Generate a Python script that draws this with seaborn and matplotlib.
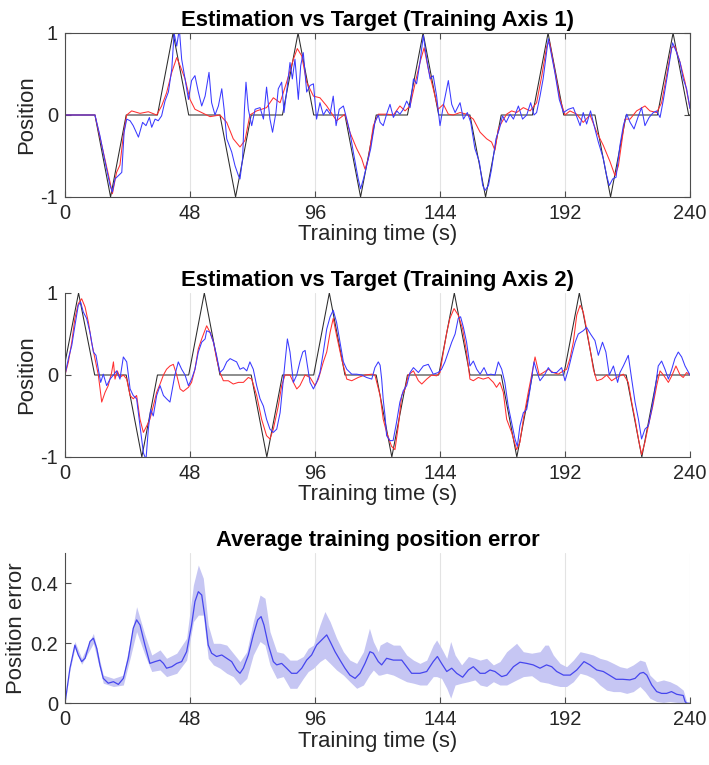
import numpy as np
import matplotlib
matplotlib.use("Agg")
import matplotlib.pyplot as plt
import seaborn as sns

# ---------------- data ----------------
# Target signals (breakpoints)
tgt1_t = [0, 11.5, 17.5, 23.5, 35.5, 41.5, 47.5, 59.5, 65.5, 71.5, 83.5, 89.5, 95.5, 107.5, 113.5, 119.5,
          131.5, 137.5, 143.5, 155.5, 161.5, 167.5, 179.5, 185.5, 191.5, 203.5, 209.5, 215.5, 227.5, 233.5, 239.5, 240]
tgt1_v = [0, 0, -1, 0, 0, 1, 0, 0, -1, 0, 0, 1, 0, 0, -1, 0,
          0, 1, 0, 0, -1, 0, 0, 1, 0, 0, -1, 0, 0, 1, 0, 0]

tgt2_t = [0, 5.2, 11.4, 23.5, 29.5, 35.5, 47.5, 53.5, 59.5, 71.5, 77.5, 83.5, 95.5, 101.5, 107.5, 119.5,
          125.5, 131.5, 143.5, 149.5, 155.5, 167.5, 173.5, 179.5, 191.5, 197.5, 203.5, 215.5, 221.5, 227.5, 240]
tgt2_v = [0.15, 1, 0, 0, -1, 0, 0, 1, 0, 0, -1, 0, 0, 1, 0, 0,
          -1, 0, 0, 1, 0, 0, -1, 0, 0, 1, 0, 0, -1, 0, 0]

# Axis 1 estimation (red)
red1_t = [0, 11.5, 14.7, 17.3, 18.2, 19.8, 21.1, 22.4, 23.7, 25.6, 28.8, 32.0, 35.2, 37.1, 39.0, 41.0, 42.9, 44.2,
          46.1, 48.0, 49.9, 53.1, 55.7, 59.5, 62.1, 64.6, 67.2, 69.1, 71.0, 73.6, 77.4, 80.0, 82.6, 85.1, 87.7, 89.2,
          90.9, 92.8, 95.4, 97.9, 100.5, 104.3, 107.5, 109.4, 112.0, 113.9, 115.2, 116.5, 118.4, 120.3, 123.5, 126.1,
          128.6, 130.6, 132.5, 134.4, 136.3, 137.9, 139.5, 141.4, 143.3, 145.3, 147.2, 149.1, 151.7, 154.2, 156.8,
          159.4, 161.9, 163.8, 165.1, 166.4, 167.7, 169.6, 171.5, 173.4, 176.0, 178.6, 181.1, 183.1, 185.0, 186.0,
          187.5, 190.1, 192.0, 193.9, 196.5, 199.0, 201.6, 204.2, 206.7, 209.3, 211.2, 212.5, 213.8, 215.0, 217.0,
          219.5, 222.7, 224.6, 227.2, 229.1, 231.0, 232.9, 234.2, 236.2, 238.1, 240.0]
red1_v = [0, 0, -0.45, -0.82, -0.96, -0.70, -0.61, -0.25, 0, 0.05, 0.02, 0.04, 0, 0.11, 0.27, 0.52, 0.70, 0.60,
          0.44, 0.19, 0.07, 0.02, -0.02, 0, -0.09, -0.29, -0.39, -0.31, 0, 0.05, 0.09, 0.21, 0.15, 0.40, 0.68, 0.81,
          0.72, 0.40, 0.23, 0.21, 0.11, -0.07, 0.01, -0.21, -0.41, -0.53, -0.66, -0.53, -0.13, 0.01, 0.01, 0,
          0.11, 0.05, 0.11, 0.38, 0.64, 0.82, 0.56, 0.32, 0.07, 0.13, 0.01, 0, 0.03, 0.01, -0.05,
          -0.21, -0.29, -0.33, -0.43, -0.17, -0.09, 0.01, 0.05, 0.03, 0.09, 0.05, 0.15, 0.48, 0.84, 0.90,
          0.64, 0.19, 0, 0.05, 0.01, -0.09, 0, -0.21, -0.37, -0.57, -0.74, -0.62, -0.33, -0.05, -0.05,
          0.05, 0.11, 0.05, 0.03, 0.15, 0.48, 0.82, 0.84, 0.64, 0.40, 0.08]

# Axis 1 estimation (blue)
blue1_t = [0, 11.5, 13.4, 15.4, 17.3, 18.2, 19.2, 20.5, 21.8, 22.7, 23.7, 25.0, 26.2, 28.2, 29.8, 31.1, 32.4, 33.3,
           34.6, 35.8, 37.1, 38.4, 39.7, 41.0, 41.9, 42.9, 43.9, 44.8, 46.1, 47.4, 48.6, 49.9, 51.2, 52.5, 53.8, 55.3,
           56.3, 57.6, 58.9, 60.2, 61.1, 62.1, 64.0, 65.3, 66.6, 67.2, 68.2, 68.9, 69.5, 70.4, 71.7, 73.0, 74.9, 76.2,
           77.4, 78.7, 79.7, 81.0, 81.9, 83.2, 84.1, 85.1, 86.4, 87.3, 88.3, 89.6, 90.5, 91.5, 92.8, 94.1, 95.4, 96.6,
           97.9, 99.2, 100.5, 101.8, 103.0, 104.1, 105.3, 106.9, 108.2, 109.4, 110.7, 112.6, 113.5, 114.6, 115.8,
           117.4, 119.0, 120.3, 121.0, 122.2, 123.5, 124.8, 126.1, 127.4, 128.6, 129.9, 131.2, 132.5, 133.8, 135.0,
           136.3, 137.6, 138.9, 140.2, 141.4, 142.7, 144.0, 145.5, 147.2, 148.5, 149.8, 151.7, 153.0, 154.5, 155.8,
           157.4, 159.1, 160.4, 161.3, 162.6, 163.8, 165.5, 166.8, 168.0, 169.4, 170.9, 172.2, 174.1, 175.7, 177.3,
           178.8, 180.1, 181.1, 182.4, 183.6, 185.6, 186.9, 188.1, 189.8, 191.4, 193.3, 195.2, 197.8, 199.0, 200.3,
           201.8, 203.5, 204.8, 206.7, 208.0, 209.0, 210.3, 211.6, 213.1, 214.4, 215.7, 217.0, 218.5, 220.2, 221.4,
           222.7, 224.3, 225.9, 227.2, 228.5, 229.8, 231.3, 233.3, 234.9, 236.2, 237.4, 238.7, 240.0]
blue1_v = [0, 0, -0.25, -0.57, -0.86, -0.94, -0.78, -0.74, -0.70, -0.21, -0.05, -0.07, -0.13, -0.27, -0.09, -0.13,
           -0.03, -0.15, -0.05, -0.07, -0.01, 0.17, 0.28, 0.56, 1.0, 0.84, 1.05, 0.68, 0.44, 0.19, 0.42, 0.48, 0.28,
           0.11, 0.23, 0.52, 0.15, 0, 0.11, 0.32, 0.07, -0.29, -0.45, -0.62, -0.74, -0.78, -0.53, 0.07, 0.40, 0.07,
           -0.13, 0.07, 0.09, -0.05, 0.34, -0.05, -0.21, 0.03, 0.32, 0.40, 0.03, 0.28, 0.64, 0.44, 0.68, 0.19, 0.60,
           0.76, 0.28, 0.36, 0.38, -0.05, 0.15, 0, 0.07, 0.01, 0.23, -0.13, 0.07, 0.11, -0.05, -0.21, -0.45, -0.78,
           -0.90, -0.78, -0.62, -0.41, -0.09, 0, -0.09, -0.13, 0.01, 0.13, -0.03, 0.05, 0.01, 0.07, 0.17, 0.09, 0.44,
           0.38, 0.64, 0.97, 0.68, 0.44, 0.48, 0.23, -0.13, 0.15, 0.42, 0.13, 0.03, 0.15, -0.05, 0.03, -0.09, -0.41,
           -0.57, -0.86, -0.92, -0.86, -0.66, -0.29, -0.17, -0.01, -0.09, 0.01, -0.05, 0.11, -0.05, 0, 0.15, 0, 0.03,
           0.23, 0.44, 0.93, 0.72, 0.52, 0.19, 0.03, 0.07, 0.09, -0.13, 0.03, -0.11, 0.05, -0.17, -0.33, -0.53, -0.74,
           -0.86, -0.78, -0.76, -0.37, -0.13, 0.01, -0.09, -0.17, -0.01, 0.09, -0.13, -0.03, 0.03, 0.05, -0.03, 0.19,
           0.48, 0.88, 0.76, 0.64, 0.44, 0.32, 0.08]

# Axis 2 estimation (red)
red2_t = [0, 1.3, 2.6, 3.8, 5.1, 6.4, 7.7, 9.0, 10.2, 11.5, 12.8, 14.1, 15.4, 16.6, 17.9, 18.6, 19.2, 20.1, 21.1,
          22.4, 23.7, 25.0, 26.2, 27.5, 28.8, 30.1, 31.4, 32.6, 33.9, 35.2, 36.5, 37.8, 39.0, 40.3, 41.6, 42.9, 44.2,
          45.4, 47.4, 48.6, 49.9, 51.2, 52.5, 54.4, 55.7, 57.0, 58.2, 59.5, 60.8, 62.7, 64.6, 66.6, 68.5, 70.4, 71.7,
          73.6, 75.5, 77.4, 78.7, 80.0, 81.9, 83.2, 84.5, 86.4, 87.7, 89.0, 90.2, 92.2, 94.1, 96.0, 97.3, 99.2, 100.5,
          101.8, 103.0, 104.3, 106.2, 108.2, 110.1, 112.6, 115.2, 117.8, 119.0, 121.0, 122.2, 123.5, 125.4, 126.7,
          128.0, 129.3, 130.6, 131.8, 133.8, 135.7, 137.0, 138.9, 140.8, 142.7, 144.0, 145.3, 146.6, 147.8, 149.4,
          151.0, 152.7, 154.2, 155.5, 156.8, 158.7, 160.6, 162.6, 164.5, 165.7, 167.0, 168.3, 169.6, 171.5, 173.4,
          174.7, 176.0, 177.9, 179.2, 180.5, 182.1, 183.7, 185.6, 187.5, 189.4, 191.4, 192.6, 193.9, 195.2, 196.5,
          197.8, 199.0, 200.3, 201.6, 202.9, 204.2, 206.1, 208.0, 209.9, 211.8, 214.4, 216.3, 217.6, 218.9, 220.2,
          221.4, 222.7, 224.0, 225.7, 227.2, 228.5, 229.8, 231.7, 233.0, 234.6, 236.2, 237.4, 238.7, 240.0]
red2_v = [0, 0.16, 0.40, 0.69, 0.87, 0.93, 0.83, 0.64, 0.40, 0.20, 0, -0.33, -0.21, -0.13, 0.03, 0.16, -0.05, 0.05,
          -0.03, 0, -0.05, -0.25, -0.29, -0.25, -0.54, -0.70, -0.62, -0.54, -0.38, -0.21, -0.11, 0, 0.07, 0.11, 0.13,
          0, -0.17, -0.20, -0.15, -0.09, 0.07, 0.32, 0.44, 0.60, 0.52, 0.40, 0.20, 0.03, -0.07, -0.07, -0.11, -0.09,
          -0.09, -0.03, -0.05, -0.25, -0.54, -0.74, -0.78, -0.66, -0.38, -0.13, 0, 0, -0.09, -0.17, -0.13, 0, -0.03,
          -0.13, -0.05, 0.16, 0.28, 0.52, 0.69, 0.48, 0.20, -0.05, -0.07, -0.03, 0, 0.01, 0, -0.25, -0.54, -0.70,
          -0.87, -0.91, -0.62, -0.25, -0.17, 0, 0.05, -0.07, -0.11, -0.05, 0, -0.01, 0.03, 0.28, 0.52, 0.69, 0.81,
          0.73, 0.56, 0.28, -0.05, -0.07, -0.03, -0.05, -0.03, -0.09, -0.15, -0.09, -0.21, -0.54, -0.70, -0.91,
          -0.82, -0.54, -0.21, 0, 0.22, 0, 0.03, 0.07, 0.03, 0.01, 0.05, 0.07, 0.20, 0.40, 0.73, 0.85, 0.77, 0.56,
          0.32, 0.07, -0.07, -0.05, 0, -0.07, -0.03, 0.01, -0.09, -0.33, -0.54, -0.78, -0.97, -0.82, -0.62, -0.38,
          -0.13, 0.05, 0, -0.09, -0.01, 0.11, 0, -0.03, 0.03, 0]

# Axis 2 estimation (blue)
blue2_t = [0, 1.3, 2.6, 3.8, 5.1, 6.0, 7.0, 8.3, 9.6, 10.9, 11.9, 12.8, 13.7, 14.7, 16.0, 17.3, 18.6, 19.8, 21.1,
           22.4, 23.7, 25.0, 26.2, 27.5, 28.8, 30.1, 31.1, 32.0, 32.9, 33.9, 35.2, 36.5, 37.8, 39.0, 40.3, 42.2, 43.5,
           44.8, 46.1, 47.4, 48.6, 49.9, 51.2, 52.5, 53.8, 54.4, 55.7, 57.0, 58.2, 59.5, 60.8, 62.1, 63.4, 64.6, 65.9,
           67.2, 68.5, 69.8, 71.0, 72.3, 73.6, 74.9, 76.2, 77.4, 78.7, 80.0, 81.3, 82.6, 83.6, 84.5, 85.4, 86.4, 87.7,
           89.0, 90.2, 91.3, 92.2, 93.1, 94.1, 95.4, 96.6, 97.9, 99.2, 100.5, 101.8, 103.0, 104.3, 105.6, 106.9,
           108.2, 110.1, 112.0, 113.9, 115.8, 117.8, 119.0, 120.3, 121.0, 121.6, 122.2, 122.9, 123.5, 124.8, 126.0,
           127.3, 128.6, 129.9, 131.2, 132.5, 133.8, 135.7, 137.6, 139.5, 141.4, 143.3, 144.6, 145.9, 147.2, 148.5,
           149.8, 151.0, 151.9, 153.0, 154.2, 155.5, 156.8, 158.1, 159.4, 160.9, 162.2, 163.5, 165.1, 166.4, 167.7,
           168.9, 170.2, 171.5, 172.8, 173.7, 174.7, 176.0, 177.3, 178.6, 180.1, 181.1, 182.4, 184.3, 185.6, 186.9,
           188.8, 190.7, 192.0, 193.3, 194.6, 195.9, 197.1, 199.0, 200.3, 201.8, 203.5, 204.8, 206.4, 207.7, 209.0,
           210.6, 212.2, 213.1, 214.4, 216.3, 217.6, 218.9, 220.2, 221.4, 222.7, 224.0, 225.3, 226.6, 227.8, 229.1,
           230.4, 231.7, 233.0, 234.2, 235.5, 236.8, 238.1, 240.0]
blue2_v = [0, 0.20, 0.36, 0.60, 0.85, 0.89, 0.77, 0.69, 0.52, 0.28, 0.24, 0.07, -0.09, 0.01, -0.13, -0.05, 0, 0.05,
           -0.05, 0.22, 0.16, -0.17, -0.25, -0.29, -0.62, -0.95, -1.03, -0.66, -0.42, -0.50, -0.25, -0.13, -0.25,
           -0.29, -0.33, 0, 0.16, 0.07, 0, -0.13, -0.05, 0.07, 0.28, 0.40, 0.44, 0.54, 0.52, 0.40, 0.24, 0.03, 0.07,
           0.16, 0.20, 0.18, 0.16, 0.07, 0.09, 0.05, 0.16, 0.07, -0.13, -0.29, -0.38, -0.54, -0.66, -0.70, -0.66,
           -0.46, -0.13, 0.16, 0.44, 0.28, -0.09, 0, 0.16, 0.28, 0.30, 0.11, -0.09, -0.17, -0.09, 0.03, 0.28, 0.56,
           0.71, 0.79, 0.64, 0.40, 0.16, 0.07, 0.01, 0.01, 0, -0.03, -0.05, 0.09, 0.16, 0.12, -0.05, -0.30, -0.50,
           -0.74, -0.80, -0.80, -0.58, -0.33, -0.19, -0.13, 0.03, 0.09, 0.03, 0.11, 0.13, 0.01, 0.03, 0.07, 0.16,
           0.28, 0.40, 0.50, 0.69, 0.71, 0.58, 0.40, 0.11, 0.17, 0.07, 0.01, 0.09, 0, 0.01, 0, 0.16, 0.07, -0.09,
           -0.38, -0.58, -0.78, -0.87, -0.62, -0.46, -0.42, -0.17, 0.16, 0.05, -0.07, 0.01, 0.09, 0.03, 0.03, 0.09,
           -0.07, 0.07, 0.24, 0.40, 0.50, 0.54, 0.58, 0.50, 0.42, 0.24, 0.40, 0.28, 0, 0.11, -0.09, 0.03, 0.11, 0.24,
           -0.05, -0.33, -0.54, -0.78, -0.66, -0.62, -0.42, -0.17, 0.11, 0.17, 0.07, -0.05, 0.07, 0.20, 0.28, 0.22,
           0.11, 0]

# Average training position error: mean
err_t = [0, 1.9, 3.8, 5.1, 6.4, 7.7, 9.6, 10.9, 12.2, 13.4, 14.7, 16.6, 18.6, 20.5, 22.4, 24.3, 26.2, 27.5, 28.8,
         30.7, 32.6, 34.6, 36.5, 37.8, 39.0, 41.0, 42.9, 44.8, 46.7, 48.6, 49.9, 51.2, 52.5, 53.8, 55.0, 56.3, 58.2,
         60.2, 62.1, 64.0, 65.9, 67.2, 68.5, 70.4, 72.3, 74.0, 75.3, 76.4, 78.1, 80.0, 81.3, 83.2, 85.1, 87.0, 89.0,
         90.9, 92.8, 94.7, 96.6, 99.2, 100.5, 101.8, 103.7, 105.6, 107.5, 109.4, 111.4, 113.3, 115.2, 117.1, 118.4,
         120.3, 121.6, 123.5, 126.1, 129.3, 131.2, 133.1, 136.3, 138.9, 141.4, 143.0, 144.6, 146.6, 148.5, 150.4,
         152.7, 154.9, 156.8, 159.4, 161.3, 163.2, 165.1, 167.7, 169.6, 172.2, 174.7, 177.3, 179.8, 182.4, 184.9,
         186.9, 188.8, 191.4, 194.0, 196.5, 199.3, 201.6, 204.2, 206.7, 209.0, 211.6, 214.2, 216.9, 218.9, 220.8,
         222.1, 223.4, 225.3, 227.2, 229.1, 231.0, 232.9, 234.9, 237.4, 238.1, 238.7, 240.0]
err_v = [0, 0.117, 0.194, 0.161, 0.139, 0.150, 0.206, 0.217, 0.183, 0.128, 0.083, 0.067, 0.072, 0.063, 0.083, 0.150,
         0.250, 0.278, 0.261, 0.194, 0.133, 0.139, 0.144, 0.133, 0.117, 0.122, 0.133, 0.139, 0.172, 0.261, 0.339,
         0.372, 0.361, 0.283, 0.194, 0.167, 0.156, 0.161, 0.150, 0.139, 0.111, 0.100, 0.117, 0.161, 0.228, 0.278,
         0.289, 0.261, 0.194, 0.139, 0.128, 0.133, 0.117, 0.100, 0.100, 0.117, 0.144, 0.161, 0.194, 0.217, 0.228,
         0.206, 0.172, 0.144, 0.117, 0.094, 0.083, 0.100, 0.133, 0.172, 0.167, 0.139, 0.128, 0.150, 0.144, 0.144,
         0.122, 0.100, 0.100, 0.106, 0.139, 0.156, 0.133, 0.106, 0.117, 0.100, 0.087, 0.111, 0.122, 0.100, 0.100,
         0.111, 0.106, 0.089, 0.094, 0.122, 0.137, 0.133, 0.128, 0.117, 0.128, 0.122, 0.106, 0.094, 0.094, 0.111,
         0.139, 0.128, 0.111, 0.106, 0.094, 0.080, 0.080, 0.078, 0.083, 0.100, 0.103, 0.094, 0.061, 0.039, 0.033,
         0.033, 0.039, 0.030, 0.026, 0.006, 0, 0]

# Average training position error: shaded band
band_t = [0, 1.9, 3.8, 6.4, 10.9, 14.7, 18.6, 22.4, 25.0, 27.5, 30.7, 33.3, 36.5, 39.0, 42.9, 46.7, 49.3, 51.2,
          53.1, 55.0, 57.0, 59.5, 62.1, 64.6, 67.2, 69.8, 72.3, 74.9, 76.8, 78.7, 81.3, 83.8, 86.4, 89.0, 91.5, 93.4,
          95.4, 97.9, 99.8, 101.8, 104.3, 106.9, 109.4, 112.0, 114.6, 116.9, 118.4, 120.3, 121.0, 123.5, 126.1,
          128.6, 131.2, 133.8, 136.3, 138.9, 141.4, 142.7, 144.6, 146.6, 148.1, 149.8, 152.3, 154.9, 157.4, 159.4,
          161.9, 164.5, 167.0, 169.6, 173.4, 176.0, 179.2, 182.4, 184.3, 185.6, 187.5, 190.1, 192.6, 195.2, 197.8,
          200.3, 202.9, 205.4, 208.0, 210.6, 213.1, 215.7, 218.2, 220.8, 222.7, 224.6, 227.2, 229.8, 232.3, 234.9,
          237.4, 238.7, 240.0]
band_hi = [0, 0.122, 0.206, 0.150, 0.233, 0.094, 0.083, 0.094, 0.206, 0.322, 0.228, 0.161, 0.178, 0.150, 0.167,
           0.217, 0.394, 0.461, 0.417, 0.261, 0.200, 0.200, 0.194, 0.167, 0.139, 0.172, 0.272, 0.361, 0.350, 0.239,
           0.172, 0.167, 0.144, 0.144, 0.156, 0.183, 0.194, 0.261, 0.306, 0.272, 0.217, 0.172, 0.144, 0.133, 0.172,
           0.250, 0.206, 0.172, 0.194, 0.206, 0.194, 0.194, 0.161, 0.144, 0.133, 0.144, 0.194, 0.211, 0.183, 0.150,
           0.206, 0.161, 0.128, 0.156, 0.150, 0.144, 0.150, 0.128, 0.139, 0.172, 0.200, 0.172, 0.167, 0.172, 0.194,
           0.194, 0.161, 0.133, 0.122, 0.144, 0.172, 0.167, 0.161, 0.150, 0.144, 0.133, 0.122, 0.117, 0.128, 0.144,
           0.139, 0.094, 0.072, 0.078, 0.072, 0.061, 0.044, 0.006, 0]
band_lo = [0, 0.111, 0.183, 0.130, 0.200, 0.067, 0.056, 0.061, 0.150, 0.239, 0.161, 0.106, 0.111, 0.089, 0.100,
           0.144, 0.272, 0.294, 0.294, 0.150, 0.128, 0.117, 0.100, 0.089, 0.061, 0.083, 0.161, 0.206, 0.194, 0.128,
           0.083, 0.089, 0.050, 0.050, 0.083, 0.106, 0.117, 0.139, 0.150, 0.133, 0.111, 0.094, 0.072, 0.050, 0.061,
           0.094, 0.111, 0.094, 0.094, 0.100, 0.094, 0.083, 0.072, 0.067, 0.061, 0.061, 0.089, 0.089, 0.083, 0.050,
           0.017, 0.061, 0.067, 0.072, 0.078, 0.061, 0.056, 0.072, 0.061, 0.061, 0.078, 0.089, 0.092, 0.072, 0.069,
           0.067, 0.061, 0.056, 0.056, 0.072, 0.100, 0.094, 0.083, 0.061, 0.044, 0.039, 0.039, 0.033, 0.039, 0.056,
           0.039, 0.017, 0.006, 0.003, 0.006, 0.003, 0, 0, 0]

xticks = [0, 48, 96, 144, 192, 240]
pos_yticks = [-1, 0, 1]
err_yticks = [0, 0.2, 0.4]
titles = ["Estimation vs Target (Training Axis 1)",
          "Estimation vs Target (Training Axis 2)",
          "Average training position error"]
xlabel = "Training time (s)"

# ---------------- style ----------------
sns.set_theme(style="white")
plt.rcParams['font.family'] = ['Liberation Sans', 'DejaVu Sans']
plt.rcParams['axes.edgecolor'] = '#4d4d4d'
plt.rcParams['axes.linewidth'] = 0.8

TICK_FS = 14.4
LAB_FS = 15.9
TXT = '#262626'

fig = plt.figure(figsize=(7.09, 7.65), dpi=100)
W, H = 709, 765


def add_ax(left, top, right, bottom):
    return fig.add_axes([left / W, 1 - bottom / H, (right - left) / W, (bottom - top) / H])


ax1 = add_ax(65, 33, 690, 197)
ax2 = add_ax(65, 293, 690, 457)
ax3 = add_ax(65, 553.3, 690, 703.3)


def style(ax, title, ylabel, yticks, ylim, box):
    ax.set_xlim(0, 240)
    ax.set_ylim(*ylim)
    ax.set_xticks(xticks)
    ax.set_xticklabels([str(v) for v in xticks])
    ax.set_yticks(yticks)
    ax.set_yticklabels([('%g' % v) for v in yticks])
    ax.grid(False)
    ax.xaxis.grid(True, color='#e3e3e3', linewidth=0.8)
    ax.set_axisbelow(True)
    ax.tick_params(axis='both', direction='in', length=4, width=0.8, color='#4d4d4d',
                   labelsize=TICK_FS, labelcolor=TXT, pad=5,
                   top=box, right=box, bottom=True, left=True)
    for s in ['top', 'right']:
        ax.spines[s].set_visible(box)
    ax.set_title(title, fontsize=LAB_FS, fontweight='bold', color='black', pad=5)
    ax.set_xlabel(xlabel, fontsize=LAB_FS, color=TXT, labelpad=1)
    ax.set_ylabel(ylabel, fontsize=LAB_FS, color=TXT, labelpad=2)


LW = 0.75
for ax, tt, tv, rt, rv, bt, bv in [
        (ax1, tgt1_t, tgt1_v, red1_t, red1_v, blue1_t, blue1_v),
        (ax2, tgt2_t, tgt2_v, red2_t, red2_v, blue2_t, blue2_v)]:
    sns.lineplot(x=tt, y=tv, ax=ax, color='#2b2b2b', linewidth=LW, estimator=None, sort=False)
    sns.lineplot(x=rt, y=rv, ax=ax, color='#ff3030', linewidth=LW, estimator=None, sort=False)
    sns.lineplot(x=bt, y=bv, ax=ax, color='#3a3aff', linewidth=LW, estimator=None, sort=False)

style(ax1, titles[0], "Position", pos_yticks, (-1, 1), True)
style(ax2, titles[1], "Position", pos_yticks, (-1, 1), False)

ax3.fill_between(band_t, band_lo, band_hi, color='#c6c6f3', linewidth=0)
sns.lineplot(x=err_t, y=err_v, ax=ax3, color='#4545ee', linewidth=0.9, estimator=None, sort=False)
style(ax3, titles[2], "Position error", err_yticks, (0, 0.5), False)

fig.savefig("out.png", dpi=100)
